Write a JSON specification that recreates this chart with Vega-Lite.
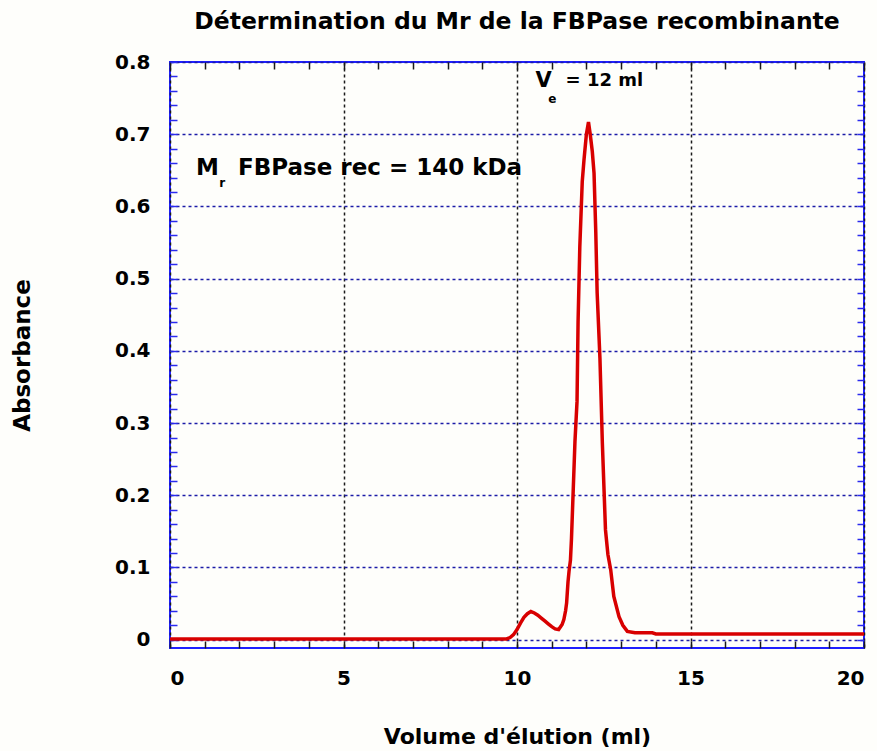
{
  "$schema": "https://vega.github.io/schema/vega-lite/v6.json",
  "width": 694,
  "height": 586,
  "autosize": {"type": "none"},
  "padding": {"left": 170, "top": 62, "right": 13, "bottom": 103},
  "background": "#fefefb",
  "view": {"stroke": "#1e1eff", "strokeWidth": 2},
  "title": {
    "text": "Détermination du Mr de la FBPase recombinante",
    "font": "DejaVu Sans",
    "fontWeight": "bold",
    "fontSize": 23.5,
    "color": "#000000",
    "anchor": "middle",
    "frame": "group",
    "baseline": "alphabetic",
    "offset": 0
  },
  "config": {
    "axis": {
      "labelFont": "DejaVu Sans",
      "labelFontWeight": "bold",
      "labelFontSize": 20,
      "labelColor": "#000000",
      "titleFont": "DejaVu Sans",
      "titleFontWeight": "bold",
      "titleFontSize": 22,
      "titleColor": "#000000",
      "domain": false
    }
  },
  "datasets": {
    "curve": [
      {"volume": 0, "absorbance": 0.001},
      {"volume": 5, "absorbance": 0.001},
      {"volume": 9.7, "absorbance": 0.001},
      {"volume": 9.8, "absorbance": 0.003},
      {"volume": 9.9, "absorbance": 0.007},
      {"volume": 10.0, "absorbance": 0.014},
      {"volume": 10.1, "absorbance": 0.023},
      {"volume": 10.2, "absorbance": 0.031},
      {"volume": 10.3, "absorbance": 0.036},
      {"volume": 10.4, "absorbance": 0.039},
      {"volume": 10.5, "absorbance": 0.037},
      {"volume": 10.6, "absorbance": 0.034},
      {"volume": 10.7, "absorbance": 0.030},
      {"volume": 10.8, "absorbance": 0.026},
      {"volume": 10.9, "absorbance": 0.022},
      {"volume": 11.0, "absorbance": 0.018},
      {"volume": 11.1, "absorbance": 0.015},
      {"volume": 11.2, "absorbance": 0.014},
      {"volume": 11.3, "absorbance": 0.021},
      {"volume": 11.35, "absorbance": 0.028},
      {"volume": 11.4, "absorbance": 0.040},
      {"volume": 11.43, "absorbance": 0.051},
      {"volume": 11.47, "absorbance": 0.08},
      {"volume": 11.5, "absorbance": 0.095},
      {"volume": 11.54, "absorbance": 0.11},
      {"volume": 11.57, "absorbance": 0.14},
      {"volume": 11.6, "absorbance": 0.18},
      {"volume": 11.67, "absorbance": 0.274},
      {"volume": 11.73, "absorbance": 0.33},
      {"volume": 11.76, "absorbance": 0.44},
      {"volume": 11.81, "absorbance": 0.544},
      {"volume": 11.88, "absorbance": 0.634},
      {"volume": 11.93, "absorbance": 0.664},
      {"volume": 12.0, "absorbance": 0.70},
      {"volume": 12.06, "absorbance": 0.717},
      {"volume": 12.11, "absorbance": 0.70},
      {"volume": 12.17, "absorbance": 0.676},
      {"volume": 12.22, "absorbance": 0.646},
      {"volume": 12.27, "absorbance": 0.565},
      {"volume": 12.31, "absorbance": 0.48},
      {"volume": 12.39, "absorbance": 0.39},
      {"volume": 12.46, "absorbance": 0.272},
      {"volume": 12.55, "absorbance": 0.152},
      {"volume": 12.62, "absorbance": 0.118},
      {"volume": 12.70, "absorbance": 0.097},
      {"volume": 12.79, "absorbance": 0.06},
      {"volume": 12.94, "absorbance": 0.032},
      {"volume": 13.05, "absorbance": 0.02},
      {"volume": 13.18, "absorbance": 0.0115},
      {"volume": 13.4, "absorbance": 0.0095},
      {"volume": 13.9, "absorbance": 0.0095},
      {"volume": 14.0, "absorbance": 0.008},
      {"volume": 17, "absorbance": 0.008},
      {"volume": 20, "absorbance": 0.008}
    ],
    "labels": [
      {"volume": 10.53, "absorbance": 0.774, "label": "V"},
      {"volume": 10.9, "absorbance": 0.749, "label": "e"},
      {"volume": 11.4, "absorbance": 0.774, "label": "= 12 ml"},
      {"volume": 0.75, "absorbance": 0.653, "label": "M"},
      {"volume": 1.42, "absorbance": 0.633, "label": "r"},
      {"volume": 1.96, "absorbance": 0.653, "label": "FBPase rec = 140 kDa"}
    ]
  },
  "layer": [
    {
      "data": {"name": "curve"},
      "mark": {"type": "line", "color": "#d80000", "strokeWidth": 3.5, "clip": true},
      "encoding": {
        "x": {
          "field": "volume",
          "type": "quantitative",
          "scale": {"domain": [0, 20], "nice": false, "zero": false},
          "axis": {
            "orient": "bottom",
            "title": "Volume d'élution (ml)",
            "titlePadding": 38,
            "values": [0,1,2,3,4,5,6,7,8,9,10,11,12,13,14,15,16,17,18,19,20],
            "labelExpr": "datum.value % 5 === 0 ? datum.label : ''",
            "labelPadding": 27,
            "tickSize": -7,
            "tickColor": "#1a1a1a",
            "tickWidth": 1.5,
            "grid": true,
            "gridColor": "#1a1a1a",
            "gridDash": [3, 3],
            "gridWidth": 1.5,
            "gridOpacity": {"condition": {"test": "datum.value % 5 === 0", "value": 1}, "value": 0}
          }
        },
        "y": {
          "field": "absorbance",
          "type": "quantitative",
          "scale": {"domain": [-0.0115, 0.8], "nice": false, "zero": false},
          "axis": {
            "orient": "left",
            "title": "Absorbance",
            "titleFontSize": 23,
            "titlePadding": 80,
            "values": [0,0.02,0.04,0.06,0.08,0.1,0.12,0.14,0.16,0.18,0.2,0.22,0.24,0.26,0.28,0.3,0.32,0.34,0.36,0.38,0.4,0.42,0.44,0.46,0.48,0.5,0.52,0.54,0.56,0.58,0.6,0.62,0.64,0.66,0.68,0.7,0.72,0.74,0.76,0.78,0.8],
            "labelExpr": "abs(datum.value*10 - round(datum.value*10)) < 0.001 ? format(datum.value, '.1~f') : ''",
            "labelPadding": 27,
            "tickSize": -7,
            "tickColor": "#2a2aee",
            "tickWidth": 1.5,
            "grid": true,
            "gridColor": "#1c1ca8",
            "gridDash": [3, 3],
            "gridWidth": 1.5,
            "gridOpacity": {"condition": {"test": "abs(datum.value*10 - round(datum.value*10)) < 0.001", "value": 1}, "value": 0}
          }
        }
      }
    },
    {
      "data": {"name": "curve"},
      "mark": {"type": "line", "strokeOpacity": 0},
      "encoding": {
        "x": {
          "field": "volume",
          "type": "quantitative",
          "axis": {
            "orient": "top",
            "title": null,
            "labels": false,
            "grid": false,
            "values": [0,1,2,3,4,5,6,7,8,9,10,11,12,13,14,15,16,17,18,19,20],
            "tickSize": -7,
            "tickColor": "#1a1a1a",
            "tickWidth": 1.5
          }
        },
        "y": {
          "field": "absorbance",
          "type": "quantitative",
          "axis": {
            "orient": "right",
            "title": null,
            "labels": false,
            "grid": false,
            "values": [0,0.02,0.04,0.06,0.08,0.1,0.12,0.14,0.16,0.18,0.2,0.22,0.24,0.26,0.28,0.3,0.32,0.34,0.36,0.38,0.4,0.42,0.44,0.46,0.48,0.5,0.52,0.54,0.56,0.58,0.6,0.62,0.64,0.66,0.68,0.7,0.72,0.74,0.76,0.78,0.8],
            "tickSize": -7,
            "tickColor": "#2a2aee",
            "tickWidth": 1.5
          }
        }
      }
    },
    {
      "data": {"name": "labels"},
      "transform": [{"filter": "datum.label === 'V'"}],
      "mark": {"type": "text", "font": "DejaVu Sans", "fontWeight": "bold", "fontSize": 21, "align": "left", "baseline": "middle", "color": "#000000"},
      "encoding": {
        "x": {"field": "volume", "type": "quantitative", "axis": null},
        "y": {"field": "absorbance", "type": "quantitative", "axis": null},
        "text": {"field": "label"}
      }
    },
    {
      "data": {"name": "labels"},
      "transform": [{"filter": "datum.label === '= 12 ml'"}],
      "mark": {"type": "text", "font": "DejaVu Sans", "fontWeight": "bold", "fontSize": 18, "align": "left", "baseline": "middle", "color": "#000000"},
      "encoding": {
        "x": {"field": "volume", "type": "quantitative", "axis": null},
        "y": {"field": "absorbance", "type": "quantitative", "axis": null},
        "text": {"field": "label"}
      }
    },
    {
      "data": {"name": "labels"},
      "transform": [{"filter": "datum.label === 'M' || datum.label === 'FBPase rec = 140 kDa'"}],
      "mark": {"type": "text", "font": "DejaVu Sans", "fontWeight": "bold", "fontSize": 23, "align": "left", "baseline": "middle", "color": "#000000"},
      "encoding": {
        "x": {"field": "volume", "type": "quantitative", "axis": null},
        "y": {"field": "absorbance", "type": "quantitative", "axis": null},
        "text": {"field": "label"}
      }
    },
    {
      "data": {"name": "labels"},
      "transform": [{"filter": "datum.label === 'e' || datum.label === 'r'"}],
      "mark": {"type": "text", "font": "DejaVu Sans", "fontWeight": "bold", "fontSize": 12, "align": "left", "baseline": "middle", "color": "#000000"},
      "encoding": {
        "x": {"field": "volume", "type": "quantitative", "axis": null},
        "y": {"field": "absorbance", "type": "quantitative", "axis": null},
        "text": {"field": "label"}
      }
    }
  ],
  "resolve": {"axis": {"x": "independent", "y": "independent"}}
}
